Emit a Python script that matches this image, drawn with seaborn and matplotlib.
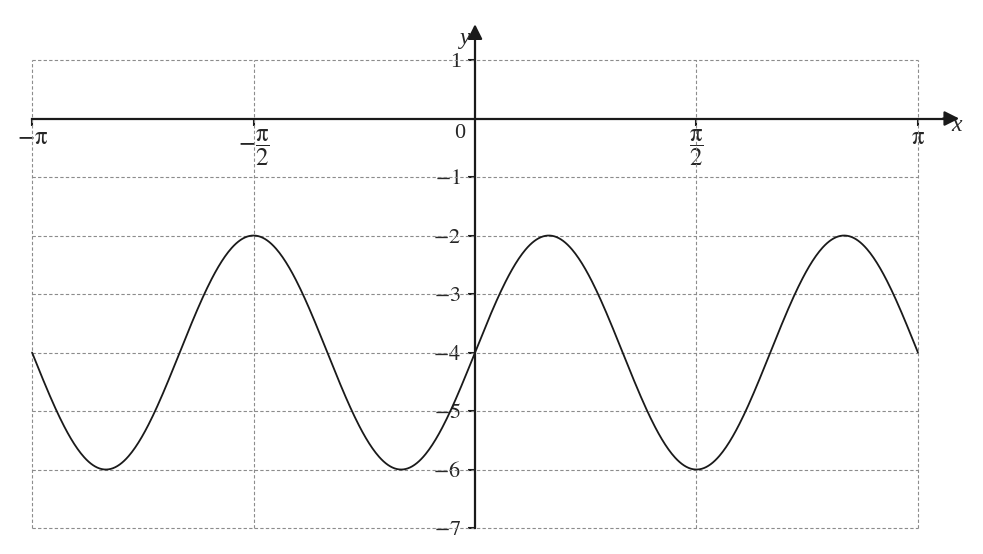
import numpy as np
import pandas as pd
import seaborn as sns
import matplotlib.pyplot as plt

# curve: y = A*sin(k*x) + c  (max -2 at pi/6, min -6 at pi/2, -4 at 0)
amplitude = 2
frequency = 3
offset = -4

x_ticks = [-np.pi, -np.pi / 2, np.pi / 2, np.pi]
x_labels = [r'$-\mathrm{\pi}$', r'$-\dfrac{\mathrm{\pi}}{2}$', r'$\dfrac{\mathrm{\pi}}{2}$', r'$\mathrm{\pi}$']
y_ticks = [1, -1, -2, -3, -4, -5, -6, -7]
y_labels = ['1', r'$-1$', r'$-2$', r'$-3$', r'$-4$', r'$-5$', r'$-6$', r'$-7$']

sns.set_theme(style='white')
plt.rcParams['font.family'] = ['Liberation Serif', 'DejaVu Serif']
plt.rcParams['mathtext.fontset'] = 'stix'

xs = np.linspace(-np.pi, np.pi, 800)
df = pd.DataFrame({'x': xs, 'y': amplitude * np.sin(frequency * xs) + offset})

fig = plt.figure(figsize=(9.83, 5.54), dpi=100)
ax = fig.add_axes([0, 0, 1, 1])
ax.set_xlim(-3.369, 3.603)
ax.set_ylim(-7.444, 2.026)

# dashed grid box
grid_kw = dict(color='#8c8c8c', linestyle=(0, (3, 2)), linewidth=0.8, zorder=1)
ax.hlines([y for y in y_ticks], -np.pi, np.pi, **grid_kw)
ax.vlines(x_ticks, -7, 1, **grid_kw)

# curve
sns.lineplot(data=df, x='x', y='y', ax=ax, color='#1a1a1a', linewidth=1.3, zorder=3)

# axes through the origin
for s in ['top', 'right']:
    ax.spines[s].set_visible(False)
ax.spines['left'].set_position(('data', 0))
ax.spines['bottom'].set_position(('data', 0))
ax.spines['left'].set_bounds(-7, 1.45)
ax.spines['bottom'].set_bounds(-np.pi, 3.36)
for s in ['left', 'bottom']:
    ax.spines[s].set_linewidth(1.6)
    ax.spines[s].set_color('#1a1a1a')
    ax.spines[s].set_zorder(4)

ax.annotate('', xy=(3.454, 0), xytext=(3.30, 0),
            arrowprops=dict(arrowstyle='-|>', color='#1a1a1a', lw=1.6, mutation_scale=22))
ax.annotate('', xy=(0, 1.66), xytext=(0, 1.40),
            arrowprops=dict(arrowstyle='-|>', color='#1a1a1a', lw=1.6, mutation_scale=22))

ax.set_xticks(x_ticks)
ax.set_xticklabels(x_labels, fontsize=18)
ax.set_yticks(y_ticks)
ax.set_yticklabels(y_labels, fontsize=16)
ax.tick_params(axis='both', bottom=True, left=True, direction='out', length=5, width=1.5,
               color='#1a1a1a')
ax.tick_params(axis='x', pad=1)
ax.tick_params(axis='y', pad=5)

ax.text(-0.07, -0.1, '0', fontsize=16, ha='right', va='top')
ax.text(3.418, -0.12, 'x', fontsize=17, style='italic', ha='center', va='center')
ax.text(-0.07, 1.37, 'y', fontsize=17, style='italic', ha='center', va='center')

ax.set_xlabel('')
ax.set_ylabel('')

plt.savefig('out.png', dpi=100)
